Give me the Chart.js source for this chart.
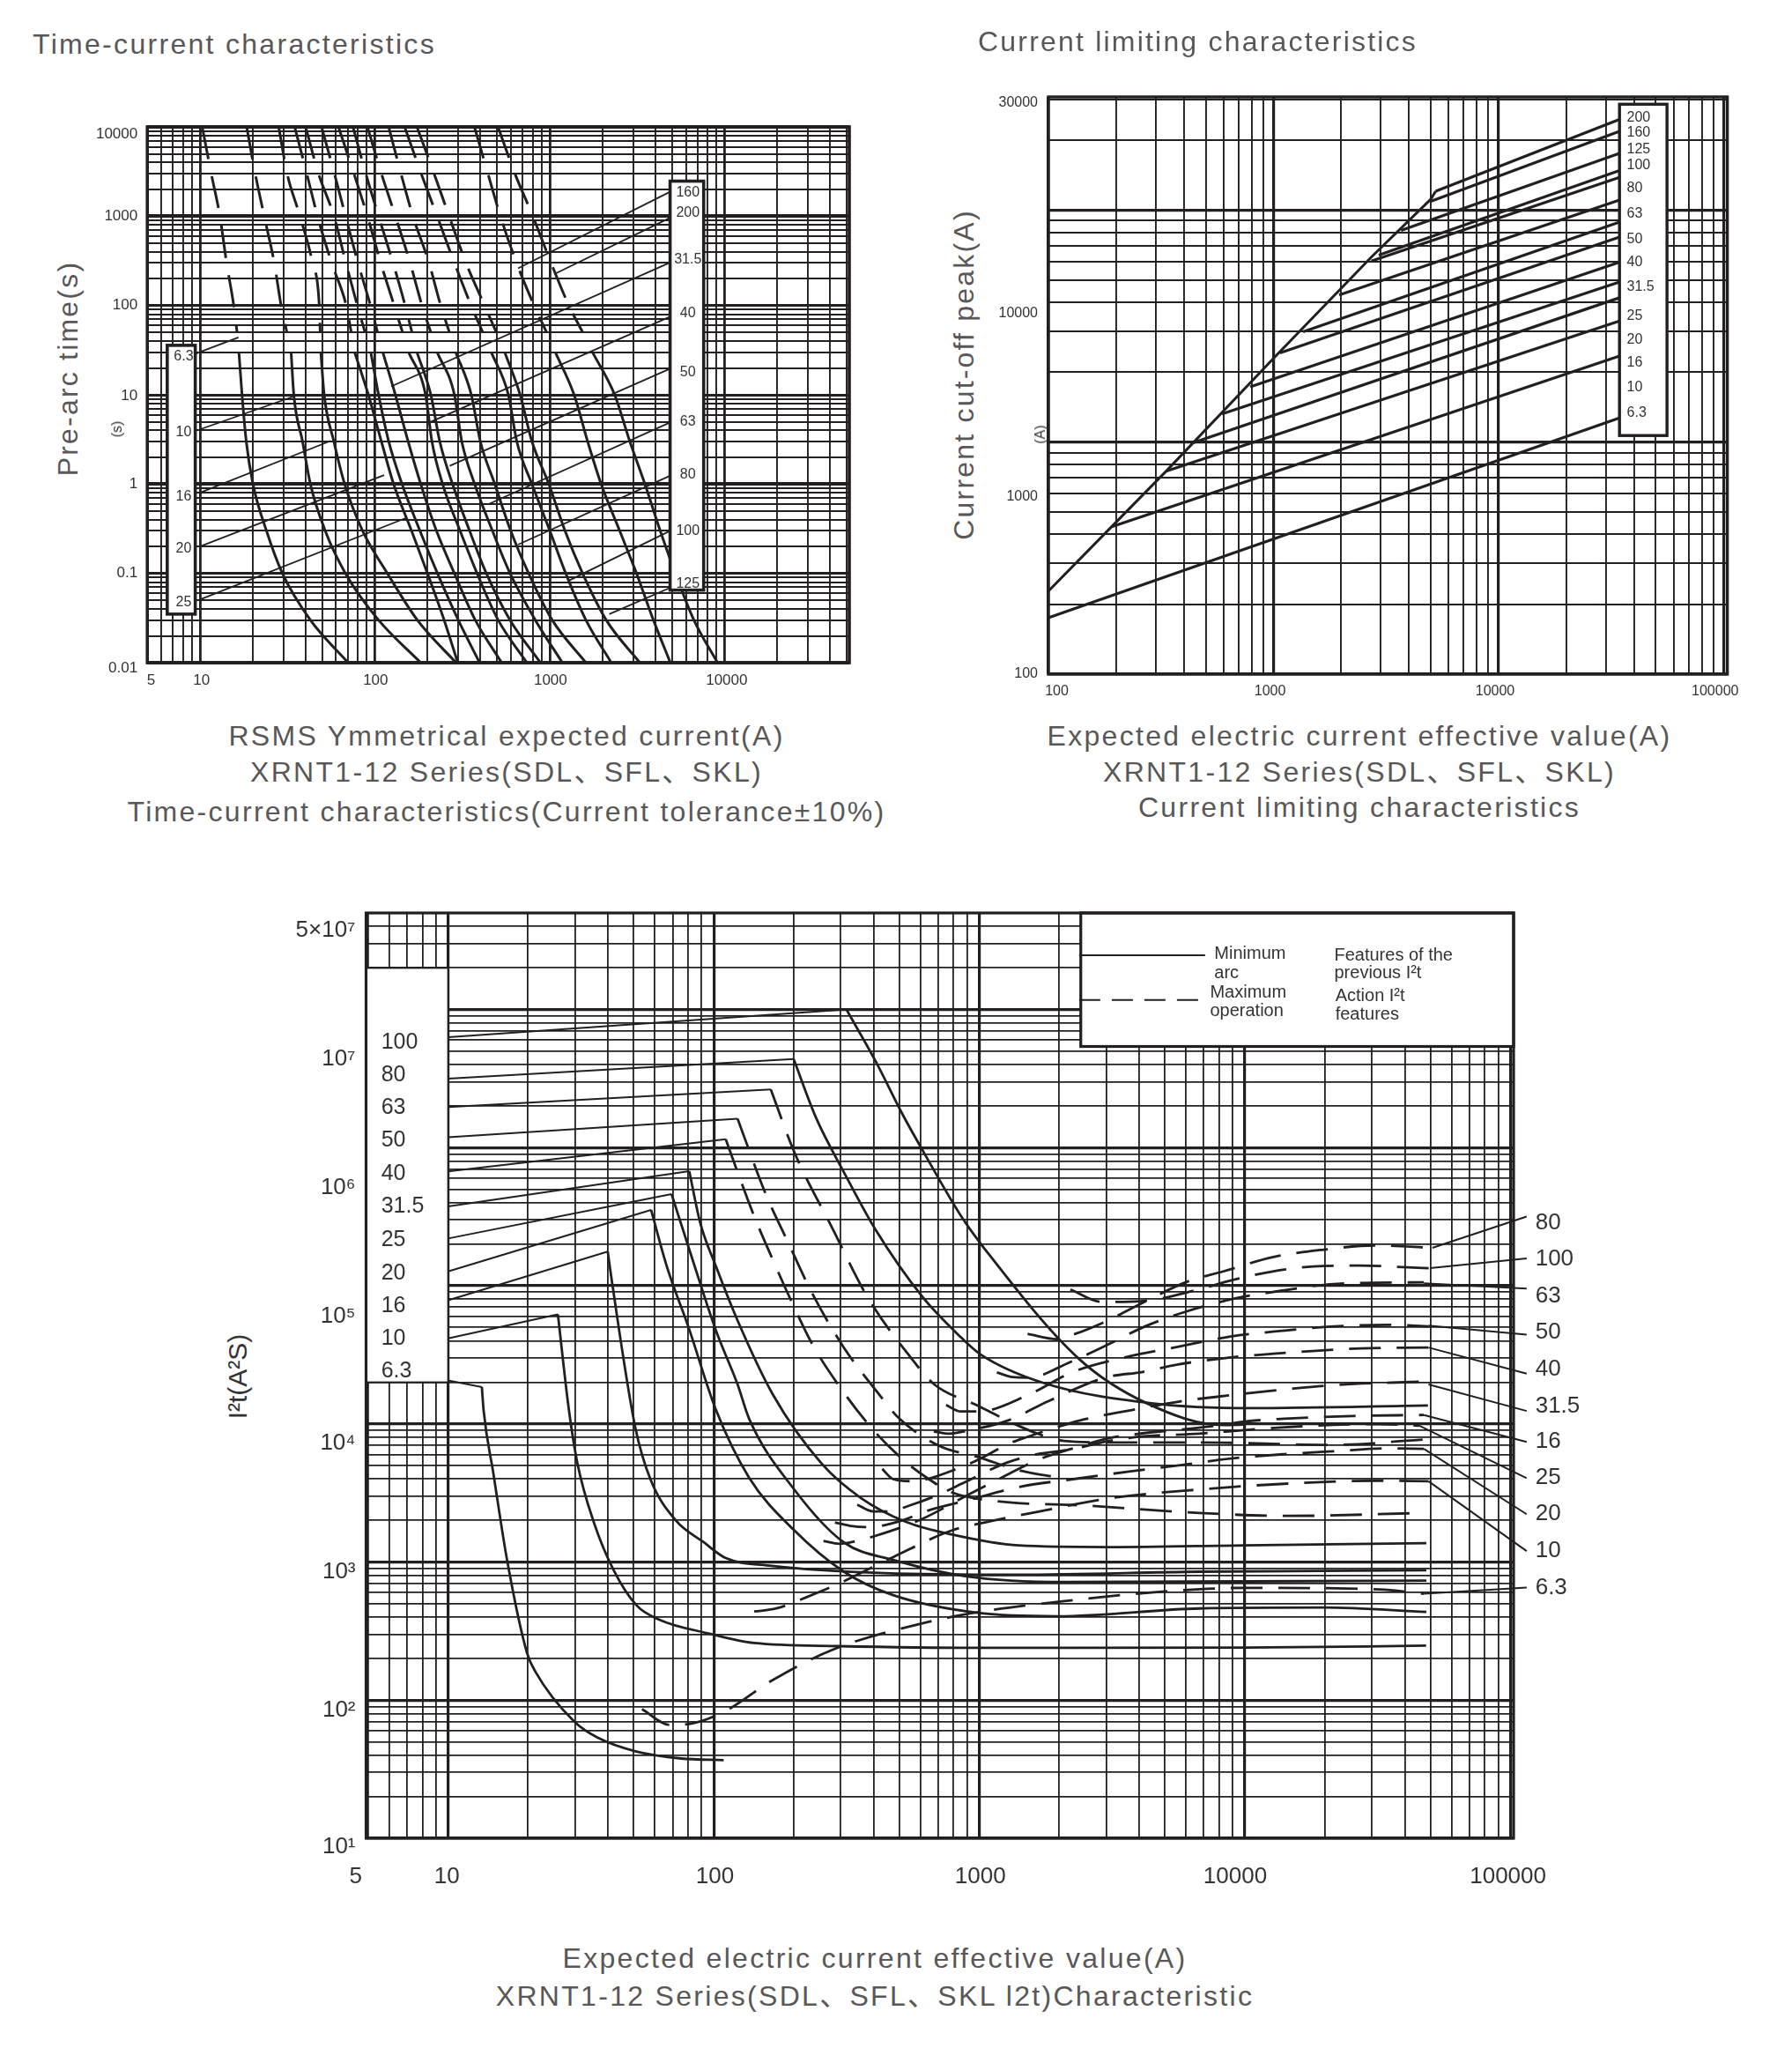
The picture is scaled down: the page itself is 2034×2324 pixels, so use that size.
<!DOCTYPE html>
<html><head><meta charset="utf-8">
<style>
html,body{margin:0;padding:0;background:#fff;width:2034px;height:2324px;overflow:hidden}
canvas{position:absolute;display:block}
.t{position:absolute;white-space:nowrap;font-family:"Liberation Sans","Noto Sans CJK SC",sans-serif;line-height:1}
</style>
<script src="https://cdn.jsdelivr.net/npm/chart.js@4"></script>
</head><body>
<script>
// ---------- Time-current characteristics ----------
const timeDashY=[10000,3000,1000,300,100,50];
const timeSolidY=[30,10,3,1,0.3,0.1,0.03,0.01];
const timeDash6_3=[10.3,11.6,13.0,14.2,15.6,16.3];
const timeDash10=[18.5,20.7,23.3,26.6,29.1,31.4];
const timeDash16=[28.2,31.5,37.3,44,48.1,48.7];
const timeDash20=[34.8,40.8,47,56.6,68.6,73.3];
const timeDash25=[40.2,47.6,58.4,68.3,79.4,87.9];
const timeDash31_5=[49.6,58.7,68,80.1,94.4,103.6];
const timeDash40=[61.9,75.9,90.7,108,129,144];
const timeDash50=[75,88.7,105,127,149,163];
const timeDash63=[90.7,109,131,159,186,209];
const timeDash80=[120,141,165,204,238,267];
const timeDash100=[148,184,227,285,355,414];
const timeDash125=[174,218,266,332,424,495];
const timeDash160=[371,443,522,646,814,959];
const timeDash200=[506,632,800,1017,1286,1543];
const timeSolid6_3=[16.7,17.4,18.4,20.1,24,29.6,42.8,70.3];
const timeSolid10=[33.2,34.4,38.6,42.8,52,67.9,105,183];
const timeSolid16=[49.1,51.3,58.3,67.2,85.1,118,175,291];
const timeSolid20=[76.6,91.8,109,128,162,200,249,298];
const timeSolid25=[94.8,105,120,143,181,228,300,397];
const timeSolid31_5=[111,131,155,183,225,285,375,531];
const timeSolid40=[156,195,212,244,307,384,507,740];
const timeSolid50=[174,209,235,278,348,434,593,885];
const timeSolid63=[227,285,314,372,470,593,827,1180];
const timeSolid80=[290,356,401,485,598,757,1033,1610];
const timeSolid100=[463,580,648,791,1001,1234,1610,2248];
const timeSolid125=[553,677,791,988,1222,1541,2103,3276];
const timeSolid160=[1076,1378,1647,1967,2510,3135,3915,4890];
const timeSolid200=[1755,2350,2870,3500,4280,5225,6670,9100];
const timeDashSeries=[timeDash6_3,timeDash10,timeDash16,timeDash20,timeDash25,timeDash31_5,timeDash40,timeDash50,timeDash63,timeDash80,timeDash100,timeDash125,timeDash160,timeDash200];
const timeSolidSeries=[timeSolid6_3,timeSolid10,timeSolid16,timeSolid20,timeSolid25,timeSolid31_5,timeSolid40,timeSolid50,timeSolid63,timeSolid80,timeSolid100,timeSolid125,timeSolid160,timeSolid200];
// leader lines: [x0,y0,x1,y1]
const timeLeaders=[[9.5,29,16.6,44],[10,4.1,33.9,9.5],[10,0.8,55.9,3.05],[10,0.2,113,1.26],[10,0.051,152,0.42],
 [4875,1875,659,261],[4875,960,1088,230],[4875,303,124,12.4],[4875,75,205,4.9],[4875,19.6,268,1.6],[4875,4.9,442,0.59],[4875,1.24,659,0.21],[4875,0.3,1285,0.083],[4875,0.069,2190,0.035]];
const timeLeftNames=["6.3","10","16","20","25"];
const timeLeftAt=[27,3.8,0.72,0.19,0.047];
const timeRightNames=["160","200","31.5","40","50","63","80","100","125"];
const timeRightAt=[1840,1090,325,82,18,5,1.28,0.3,0.076];
const timeXTickValues=[5.25,10.2,101,1010,10270];
const timeXTickLabels=["5","10","100","1000","10000"];
const timeYTickValues=[8250,1000,100,9.7,1,0.1,0.0087];
const timeYTickLabels=["10000","1000","100","10","1","0.1","0.01"];

// ---------- Current limiting characteristics ----------
const limitEnvelope=[[100,228],[191,432],[333,748],[1015,2329],[2723,6266],[5000,11120],[5260,12050]];
const limitStartX=[100,191,333,430,590,788,1069,1355,1959,2723,2938,3690,5000,5260];
const limitStartY=[175,432,748,986,1321,1730,2421,2985,4305,6026,6397,8166,10900,12050];
const limitEndX=34500;
const limitEndY=[1270,2350,3327,4187,4897,5957,7638,8870,11040,13830,14790,17540,21830,24550];
const limitNames=["200","160","125","100","80","63","50","40","31.5","25","20","16","10","6.3"];
const limitNameAt=[25060,21500,18200,15600,12400,9620,7460,5970,4660,3500,2770,2190,1720,1340];
const limitXTickValues=[109,966,9660,91800];
const limitXTickLabels=["100","1000","10000","100000"];
const limitYTickValues=[29040,3600,582,100];
const limitYTickLabels=["30000","10000","1000","100"];

// ---------- I2t characteristic: [current, I2t] ----------
const arc6_3=[[13.4,18500],[13.6,12600],[14.8,4400],[16.7,1014],[19.8,221],[21.3,161],[29.9,69.7],[36.4,53.7],[51.2,42.4],[75.5,37.8],[109,36.8]];
const arc10=[[25.9,62100],[28.5,12600],[30.7,5150],[35.5,1900],[42.1,865],[51.2,486],[62.1,384],[96.4,303],[142,259],[296,246],[1023,239],[10000,240],[48100,248]];
const arc16=[[39.9,177000],[41.3,110000],[50.7,9370],[57.8,3960],[71.9,2005],[91.8,1388],[111,1069],[165,938],[440,830],[1413,809],[6730,851],[48200,871]];
const arc20=[[58.1,354000],[66.6,138000],[80.4,50100],[102,12600],[136,4074],[201,1695],[309,851],[474,575],[1000,427],[1977,405],[6730,461],[19950,468],[48200,435]];
const arc25=[[69.4,461000],[81.7,173000],[102,47300],[123,19300],[136,10860],[201,3350],[309,1387],[474,1035],[885,790],[2090,716],[48200,734]];
const arc31_5=[[80.9,676000],[88.9,287000],[102,138000],[123,56000],[167,16300],[255,5150],[359,2900],[530,1950],[783,1585],[1406,1318],[3062,1282],[9930,1321],[48200,1368]];
const arc80=[[200,4380000],[243,1640000],[309,665000],[406,256000],[611,83000],[853,42300],[1009,31900],[1742,19800],[4450,14100],[10500,13000],[48900,13600]];
const arc100=[[316,10000000],[406,4260000],[515,1730000],[611,960000],[853,320000],[1030,193000],[2380,29400],[4270,14100],[8300,9820],[9880,9880]];
const op40Fall=[[111,1150000],[123,665000],[141,330000],[167,154000],[198,74300],[235,37800],[288,20400],[392,9380],[504,5740],[635,4070],[788,3190],[1164,2755],[2535,2560],[6730,2265],[14660,2157],[47200,2265]];
const op50Fall=[[123,1620000],[156,475000],[191,204000],[235,87900],[309,35700],[420,16300],[498,11000],[701,6980],[995,5740],[1413,4610],[2009,4070]];
const op63Fall=[[164,2640000],[201,930000],[279,263000],[379,83000],[552,30200],[677,19300],[957,13900],[1652,8510],[2090,7520],[3085,7340],[6730,7340],[21600,7050],[47200,7710]];
const op6_3=[[53.7,86],[68.5,66.2],[83.2,67.9],[111,83.7],[165,138],[282,233],[649,370],[1035,439],[2090,521],[4550,604],[9930,650],[32000,634],[47200,589]];
const op10=[[142,438],[172,461],[226,561],[297,700],[474,1086],[787,1690],[1076,1955],[1786,2377],[3085,2890],[6730,3350],[14660,3700],[32000,3880],[49100,3846]];
const op16=[[259,1422],[297,1355],[347,1422],[406,1546],[600,2023],[921,3112],[1211,4074],[1653,5470],[2257,6656],[3085,7900],[4055,8510],[7550,9620],[9930,10400],[14100,10900],[25300,11400],[47200,11600]];
const op20=[[286,1936],[334,1815],[383,1790],[493,1955],[649,2377],[921,2825],[1442,3524],[2257,3980],[3604,4498],[5630,5012],[8830,5610],[14100,6040],[21600,6340],[34600,6650],[47200,6590]];
const op25=[[347,2600],[398,2325],[457,2325],[545,2560],[701,3070],[885,3790],[1259,5210],[1653,6040],[2173,6490],[3085,7520],[4055,8090],[6730,8500],[9930,9020],[13300,9380],[21600,9840],[32000,9950],[45400,9710]];
const op31_5=[[431,4720],[474,3980],[555,3850],[851,4840],[1035,5740],[1283,7160],[1528,8090],[1933,9380],[2393,10600],[3750,12600],[5750,14600],[9020,16200],[14660,17900],[21600,19100],[49100,20300]];
const op40=[[674,8830],[773,8490],[904,8930],[1283,10600],[1820,14600],[2965,21600],[4130,23800],[5530,26800],[8830,30300],[12800,32200],[18500,33800],[27400,35200],[49100,35700]];
const op50=[[750,13700],[851,12300],[995,12300],[1528,16200],[2257,23800],[3532,30300],[5530,36000],[8830,42900],[13800,47200],[21600,50800],[34600,52100],[49100,50800]];
const op63=[[1164,23600],[1334,21800],[1528,21600],[2213,28200],[3085,37900],[4207,50800],[5980,64900],[9190,80900],[14660,93800],[21600,103000],[47200,106000]];
const op80=[[1520,44800],[1959,41100],[2203,43600],[2897,53600],[4113,75200],[6067,107000],[8290,127000],[12700,161000],[19500,182000],[31200,196000],[50800,188000]];
const op100=[[2203,94000],[2897,76400],[4113,77600],[6685,94000],[8950,110000],[12700,127000],[18100,138000],[27200,140000],[41000,136000],[49800,134000]];
const i2tLeftLeaders=[[10,20600,13.4,18500],[10,41600,25.9,62100],[10,78500,39.9,177000],[10,127000,58.1,354000],[10,220000,69.4,461000],[10,375000,80.9,676000],[10,673000,111,1150000],[10,1190000,123,1620000],[10,1970000,164,2640000],[10,3160000,200,4380000],[10,6310000,316,10000000]];
const i2tRightLeaders=[[50800,188000,115000,317000],[49800,134000,115000,158000],[47200,104000,115000,95500],[49100,51500,115000,44300],[49100,35700,115000,23100],[49100,19300,115000,12400],[47200,11600,115000,7410],[45400,9710,115000,4050],[47200,6590,115000,2220],[49100,3846,115000,1200],[47200,589,115000,654]];
const i2tLeftNames=["100","80","63","50","40","31.5","25","20","16","10","6.3"];
const i2tLeftAt=[5800000,3340000,1940000,1130000,646000,375000,214000,123000,71300,41400,24000];
const i2tRightNames=["80","100","63","50","40","31.5","16","25","20","10","6.3"];
const i2tRightAt=[285000,155000,84000,45800,24800,13500,7410,4050,2220,1200,654];
const i2tXTickValues=[4.49,9.9,101,1009,9190,97800];
const i2tXTickLabels=["5","10","100","1000","10000","100000"];
const i2tYTickValues=[37500000,4360000,513000,60300,7200,849,84,8.7];
const i2tYTickLabels=["5×10⁷","10⁷","10⁶","10⁵","10⁴","10³","10²","10¹"];

// ---------- helpers ----------
const INK="#231f20";
const FONT='"Liberation Sans",sans-serif';
const norm=v=>Number(v.toPrecision(6));
function multiples(lo,hi){ // grid values of a log axis: 1..9 per decade
  const out=[];
  for(let e=Math.floor(Math.log10(lo));e<=Math.ceil(Math.log10(hi));e++)
    for(let m=1;m<10;m++){const v=norm(m*Math.pow(10,e)); if(v>=lo*0.999&&v<=hi*1.001) out.push(v);}
  return out;
}
function axis(o){ // o: min,max,position,size,tickValues,tickLabels,thick,font,pad,minorW,decadeW
  const grid=new Set(multiples(o.min,o.max));
  const text=new Map(o.tickValues.map((v,i)=>[norm(v),o.tickLabels[i]]));
  const all=[...new Set([...grid,...text.keys()])].sort((a,b)=>a-b);
  return {
    type:'logarithmic',position:o.position,min:o.min,max:o.max,
    afterBuildTicks:s=>{s.ticks=all.map(v=>({value:v}));},
    afterFit:s=>{ if(o.position==='bottom') s.height=o.size; else s.width=o.size; },
    border:{display:false},
    grid:{drawTicks:false,color:INK,
      lineWidth:c=>{const v=norm(c.tick.value); if(!grid.has(v)) return 0;
        if(o.thick&&o.thick[v]) return o.thick[v];
        return Math.abs(Math.log10(v)-Math.round(Math.log10(v)))<1e-9?o.decadeW:o.minorW;}},
    ticks:{autoSkip:false,maxRotation:0,minRotation:0,padding:o.pad,color:"#333",font:{family:FONT,size:o.font},
      callback:v=>{const s=text.get(norm(v));return s===undefined?'':s;}}
  };
}
function notes(boxes,labels){ // boxes and texts placed through the chart's scales
  const drawBoxes=(chart,front)=>{const {ctx,scales:{x,y}}=chart;
    boxes.filter(b=>!!b.front===front).forEach(b=>{
      const l=x.getPixelForValue(b.x0),r=x.getPixelForValue(b.x1),t=y.getPixelForValue(b.y1),m=y.getPixelForValue(b.y0);
      ctx.save();ctx.fillStyle="#fff";ctx.fillRect(l,t,r-l,m-t);ctx.strokeStyle=INK;ctx.lineWidth=b.lw;ctx.strokeRect(l,t,r-l,m-t);ctx.restore();});};
  return {id:'notes',
    beforeDatasetsDraw(chart){drawBoxes(chart,false);},
    afterDatasetsDraw(chart){drawBoxes(chart,true);
      const {ctx,chartArea:a,scales:{x,y}}=chart;
      ctx.save();ctx.strokeStyle=INK;ctx.lineWidth=chart.options.frameW;ctx.strokeRect(a.left,a.top,a.right-a.left,a.bottom-a.top);
      ctx.fillStyle="#333";ctx.textBaseline='middle';
      labels.forEach(s=>{ctx.font=s.size+'px '+FONT;ctx.textAlign=s.align||'left';ctx.fillText(s.text,x.getPixelForValue(s.x),y.getPixelForValue(s.y));});
      ctx.restore();}};
}
const line=(pts,o)=>Object.assign({data:pts.map(p=>({x:p[0],y:p[1]})),borderColor:INK,pointRadius:0,fill:false,borderCapStyle:'butt',borderJoinStyle:'round'},o);
const curve=(pts,w,dash)=>line(pts,{borderWidth:w,borderDash:dash||[],cubicInterpolationMode:'monotone'});
const straight=(p,w,dash)=>line(p,{borderWidth:w,borderDash:dash||[],clip:false});
function make(box,paddingTop,paddingRight,xA,yA,datasets,plugin,frameW){
  const c=document.createElement('canvas');
  c.width=box.w;c.height=box.h;c.style.left=box.x+'px';c.style.top=box.y+'px';c.style.width=box.w+'px';c.style.height=box.h+'px';
  document.body.appendChild(c);
  return new Chart(c,{type:'line',data:{datasets},plugins:[plugin],
    options:{responsive:false,animation:false,devicePixelRatio:1,frameW,events:[],
      layout:{padding:{left:0,top:paddingTop,right:paddingRight,bottom:0}},
      plugins:{legend:{display:false},tooltip:{enabled:false},title:{display:false}},
      scales:{x:xA,y:yA}}});
}
const zip=(a,b)=>a.map((v,i)=>[v,b[i]]);

// ---------- chart 1 ----------
const ds1=[];
timeLeaders.forEach(l=>ds1.push(straight([[l[0],l[1]],[l[2],l[3]]],1.8)));
timeDashSeries.forEach(s=>ds1.push(curve(zip(s,timeDashY),3,[37,20])));
timeSolidSeries.forEach(s=>ds1.push(curve(zip(s,timeSolidY),3)));
make({x:100,y:90,w:900,h:710},54,36,
  axis({min:5,max:51600,position:'bottom',size:48,tickValues:timeXTickValues,tickLabels:timeXTickLabels,font:17,pad:10,minorW:1.9,decadeW:2.8}),
  axis({min:0.01,max:10000,position:'left',size:67.2,tickValues:timeYTickValues,tickLabels:timeYTickLabels,font:17,pad:11,minorW:1.9,decadeW:3,thick:{1000:4,1:4,0.01:4,10000:4}}),
  ds1,
  notes([{x0:6.5,x1:9.4,y0:0.035,y1:35.8,lw:3.6,front:true},{x0:4875,x1:7586,y0:0.065,y1:2470,lw:3.6,front:true}],
    timeLeftNames.map((t,i)=>({text:t,x:8.07,y:timeLeftAt[i],size:16,align:'center'})).concat(
    timeRightNames.map((t,i)=>({text:t,x:6160,y:timeRightAt[i],size:16,align:'center'})))),3.6);

// ---------- chart 2 ----------
const ds2=[straight(limitEnvelope,3)];
limitStartX.forEach((v,i)=>ds2.push(straight([[v,limitStartY[i]],[limitEndX,limitEndY[i]]],3.2)));
make({x:1120,y:50,w:914,h:755},60,73.4,
  axis({min:100,max:104000,position:'bottom',size:40,tickValues:limitXTickValues,tickLabels:limitXTickLabels,font:16,pad:10,minorW:1.9,decadeW:3.2}),
  axis({min:100,max:30700,position:'left',size:70,tickValues:limitYTickValues,tickLabels:limitYTickLabels,font:16,pad:12,minorW:1.9,decadeW:3.2}),
  ds2,
  notes([{x0:34500,x1:56100,y0:1067,y1:28560,lw:3.4}],
    limitNames.map((t,i)=>({text:t,x:37200,y:limitNameAt[i],size:16}))),3.4);

// ---------- chart 3 ----------
const ds3=[];
i2tLeftLeaders.forEach(l=>ds3.push(straight([[l[0],l[1]],[l[2],l[3]]],2)));
i2tRightLeaders.forEach(l=>ds3.push(straight([[l[0],l[1]],[l[2],l[3]]],2)));
[arc6_3,arc10,arc16,arc20,arc25,arc31_5,arc80,arc100].forEach(s=>ds3.push(curve(s,2.8)));
[op40Fall,op50Fall,op63Fall,op6_3,op10,op16,op20,op25,op31_5,op40,op50,op63,op80,op100].forEach(s=>ds3.push(curve(s,2.8,[36,18])));
ds3.push(straight([[2376,24700000],[7080,24700000]],2));
ds3.push(straight([[2376,11700000],[6810,11700000]],2,[24,13]));
const legendTexts=[["Minimum",7670,25100000],["arc",7670,18400000],["Maximum",7390,13300000],["operation",7390,9770000],
  ["Features of the",21700,24700000],["previous I²t",21700,18400000],["Action I²t",21900,12500000],["features",21900,9200000]];
make({x:300,y:970,w:1500,h:1176},66,82,
  axis({min:4.91,max:102700,position:'bottom',size:60,tickValues:i2tXTickValues,tickLabels:i2tXTickLabels,font:26,pad:28,minorW:1.8,decadeW:3.2}),
  axis({min:10,max:50000000,position:'left',size:115.5,tickValues:i2tYTickValues,tickLabels:i2tYTickLabels,font:26,pad:12,minorW:1.8,decadeW:3.2}),
  ds3,
  notes([{x0:4.91,x1:10,y0:20000,y1:20000000,lw:2},{x0:2410,x1:102700,y0:5400000,y1:50000000,lw:3.2}],
    i2tLeftNames.map((t,i)=>({text:t,x:5.6,y:i2tLeftAt[i],size:25})).concat(
    i2tRightNames.map((t,i)=>({text:t,x:124000,y:i2tRightAt[i],size:26})),
    legendTexts.map(t=>({text:t[0],x:t[1],y:t[2],size:20})))),3.2);

// ---------- titles and captions ----------
const GREY="#595757";
const page=[
 ["Time-current characteristics",37,50,32,GREY,'l',0,2.3],
 ["Current limiting characteristics",1110,47,32,GREY,'l',0,2.2],
 ["RSMS Ymmetrical expected current(A)",575,835,32,GREY,'c',0,2.3],
 ["XRNT1-12 Series(SDL、SFL、SKL)",575,876,32,GREY,'c',0,2.3],
 ["Time-current characteristics(Current tolerance±10%)",575,921,32,GREY,'c',0,2.3],
 ["Expected electric current effective value(A)",1543,835,32,GREY,'c',0,2.3],
 ["XRNT1-12 Series(SDL、SFL、SKL)",1543,876,32,GREY,'c',0,2.3],
 ["Current limiting characteristics",1543,916,32,GREY,'c',0,2.3],
 ["Expected electric current effective value(A)",993,2222,32,GREY,'c',0,2.3],
 ["XRNT1-12 Series(SDL、SFL、SKL l2t)Characteristic",993,2265,32,GREY,'c',0,2.3],
 ["Pre-arc time(s)",77,418,32,GREY,'c',-90,2.2],
 ["Current cut-off peak(A)",1094,425,32,GREY,'c',-90,2.2],
 ["I²t(A²S)",270,1562,30,"#333",'c',-90,0],
 ["(s)",132.7,487,16,"#333",'c',-90,0],
 ["(A)",1180.5,493,16,"#333",'c',-90,0]
];
page.forEach(p=>{const d=document.createElement('div');d.className='t';d.textContent=p[0];
  d.style.left=p[1]+'px';d.style.top=p[2]+'px';d.style.fontSize=p[3]+'px';d.style.color=p[4];d.style.letterSpacing=p[7]+'px';
  d.style.transform=(p[5]==='c'?'translate(-50%,-50%)':'translateY(-50%)')+(p[6]?' rotate('+p[6]+'deg)':'');
  document.body.appendChild(d);});
</script>
</body></html>
